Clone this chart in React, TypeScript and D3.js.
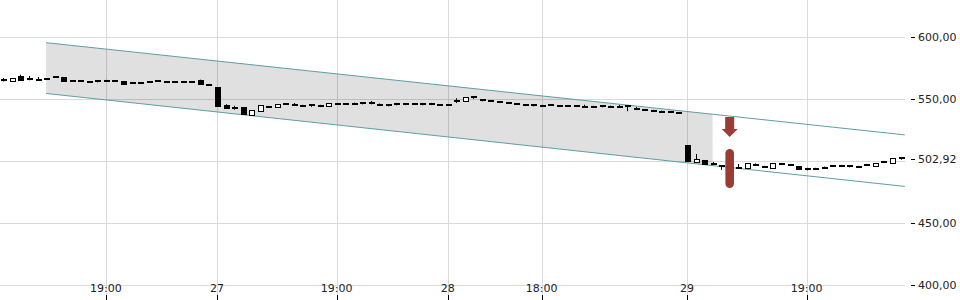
import React from "react";
import * as d3 from "d3";

// ---- Data ----
const opens = [
  565.5, 564.1, 567.6, 566.7, 565.3, 566.5, 567.5, 567.3, 564.2, 564.3,
  563.9, 564.6, 565.1, 564.2, 564.1, 563.5, 563.4, 563.9, 564.2, 563.9,
  563.8, 563.8, 563.7, 564.9, 561.0, 558.9, 544.4, 543.6, 543.2, 536.7,
  539.6, 544.2, 543.2, 545.9, 546.1, 545.0, 543.6, 545.0, 543.4, 545.9,
  545.9, 545.8, 545.6, 547.4, 546.1, 545.6, 544.8, 546.4, 545.8, 544.8,
  546.6, 545.3, 545.3, 548.8, 548.0, 552.0, 549.6, 549.0, 547.8, 547.4,
  546.2, 545.6, 545.3, 544.0, 545.0, 544.4, 544.1, 544.1, 544.4, 544.2,
  544.4, 543.4, 544.2, 544.2, 542.3, 540.8, 541.0, 539.9, 539.1, 538.7,
  512.0, 498.9, 500.5, 498.6, 495.7, 495.1, 494.4, 494.0, 497.9, 495.9,
  494.0, 498.1, 496.8, 495.6, 492.4, 494.3, 495.3, 496.2, 496.7, 496.5,
  495.9, 496.5, 495.6, 499.1, 498.1, 501.0,
];
const closes = [
  564.3, 566.5, 565.1, 565.1, 565.1, 565.7, 567.4, 564.1, 564.1, 564.4,
  563.8, 563.3, 564.1, 564.1, 561.7, 562.5, 562.4, 563.8, 564.1, 563.8,
  563.7, 563.7, 563.6, 561.7, 560.9, 543.6, 542.0, 542.0, 537.5, 540.4,
  544.2, 542.8, 545.6, 545.8, 544.4, 544.0, 545.6, 543.4, 546.1, 545.8,
  545.8, 545.9, 547.2, 545.6, 544.2, 544.0, 546.6, 545.0, 545.9, 546.6,
  545.0, 545.2, 545.2, 548.0, 550.9, 550.1, 548.0, 547.7, 547.7, 546.1,
  546.1, 544.2, 544.0, 545.0, 545.1, 543.4, 544.0, 544.0, 542.8, 543.2,
  543.2, 543.3, 542.8, 543.4, 541.0, 540.7, 539.6, 538.8, 539.0, 538.6,
  499.4, 501.3, 497.3, 496.7, 495.5, 494.0, 494.3, 497.5, 495.9, 494.5,
  497.9, 496.7, 496.7, 493.1, 494.3, 492.9, 493.7, 496.1, 495.1, 494.9,
  494.9, 496.4, 497.7, 499.0, 502.1, 502.92,
];
const highs = [
  566.7, 566.6, 569.4, 568.4, 567.6, 566.6, 567.6, 567.4, 564.3, 565.0,
  563.9, 564.7, 565.2, 564.2, 564.2, 563.6, 563.5, 563.9, 564.2, 563.9,
  563.9, 563.8, 563.8, 565.4, 561.1, 559.0, 545.6, 544.4, 543.3, 540.5,
  544.3, 544.3, 545.7, 546.0, 546.6, 545.1, 545.7, 545.1, 546.2, 546.0,
  546.0, 546.9, 547.3, 548.2, 546.2, 545.7, 546.7, 546.5, 546.6, 546.7,
  546.7, 545.4, 545.4, 550.4, 551.0, 552.1, 549.7, 549.1, 547.9, 547.5,
  546.3, 545.7, 545.4, 545.1, 545.8, 544.5, 544.2, 544.2, 545.2, 544.3,
  544.5, 544.5, 545.0, 544.4, 543.4, 540.9, 541.1, 540.5, 539.6, 538.8,
  512.1, 505.5, 500.6, 499.1, 495.8, 496.5, 497.5, 497.6, 498.0, 496.0,
  498.0, 498.2, 497.5, 495.7, 494.4, 494.4, 495.4, 496.3, 496.8, 496.6,
  496.0, 497.5, 497.8, 500.0, 502.2, 503.0,
];
const lows = [
  564.0, 564.0, 565.0, 564.9, 565.0, 565.6, 567.3, 564.0, 564.0, 564.0,
  563.7, 563.2, 564.0, 564.0, 561.6, 562.4, 562.3, 563.7, 564.0, 563.7,
  563.7, 563.6, 563.5, 561.6, 560.8, 543.4, 541.9, 541.2, 537.4, 536.6,
  539.5, 542.7, 543.1, 545.7, 544.3, 543.9, 543.5, 543.3, 543.3, 545.7,
  545.7, 545.7, 545.5, 545.5, 544.1, 543.9, 544.7, 544.9, 545.7, 544.7,
  544.9, 545.1, 545.1, 546.5, 547.9, 550.0, 547.9, 547.6, 547.6, 546.0,
  546.0, 544.1, 543.9, 543.9, 544.9, 543.3, 543.9, 543.9, 542.7, 543.1,
  543.1, 543.2, 542.7, 540.0, 540.9, 540.6, 539.5, 538.7, 538.9, 538.5,
  499.3, 498.8, 497.2, 496.6, 492.7, 493.0, 494.2, 493.9, 495.8, 494.4,
  493.9, 496.6, 496.6, 493.0, 492.3, 492.8, 493.6, 496.0, 495.0, 494.8,
  494.8, 496.3, 495.5, 498.9, 498.0, 500.9,
];

const xTickIndex = [12, 25, 39, 52, 63, 80, 94];
const xTickLabels = ["19:00", "27", "19:00", "28", "18:00", "29", "19:00"];

const yGridValues = [600, 550, 500, 450, 400];
const yTickValues = [600, 550, 450, 400];
const lastPrice = 502.92;

// regression channel: [start index, end index] and values at those ends
const channelIdx = [5, 105.5];
const channelUpper = [595.2, 520.9];
const channelLower = [554.3, 479.4];
const channelFillEnd = 83;

// event marker
const markerIndex = 85;
const markerArrowTop = 535.3;
const markerPill = [509.6, 478.2];

const fmt = (v: number) => v.toFixed(2).replace(".", ",");

export default function App() {
  const W = 960;
  const H = 300;
  const plotRight = 905;

  const x = d3.scaleLinear().domain([0, 105]).range([3.36, 3.36 + 8.545 * 105]);
  const y = d3.scaleLinear().domain([400, 600]).range([285, 36.7]);

  const lineAt = (vals: number[], i: number) =>
    d3.scaleLinear().domain(channelIdx).range(vals)(i);

  const fillPts: [number, number][] = [
    [x(channelIdx[0]), y(channelUpper[0])],
    [x(channelFillEnd), y(lineAt(channelUpper, channelFillEnd))],
    [x(channelFillEnd), y(lineAt(channelLower, channelFillEnd))],
    [x(channelIdx[0]), y(channelLower[0])],
  ];
  const fillPath = d3.line()(fillPts) + "Z";

  const lineGen = d3
    .line<number>()
    .x((_, k) => x(channelIdx[k]))
    .y((v) => y(v));

  const mx = x(markerIndex);
  const arrowTopY = y(markerArrowTop);
  const pillTop = y(markerPill[0]);
  const pillBot = y(markerPill[1]);
  const red = "#9b3b36";

  const font = "DejaVu Sans, sans-serif";

  return (
    <svg
      width={W}
      height={H}
      style={{ position: "absolute", left: 0, top: 0, background: "#fff" }}
    >
      {/* grid */}
      {yGridValues.map((v) => (
        <line
          key={"gy" + v}
          x1={0}
          x2={plotRight}
          y1={Math.round(y(v)) + 0.5}
          y2={Math.round(y(v)) + 0.5}
          stroke="#d9d9d9"
          strokeWidth={1}
        />
      ))}
      {xTickIndex.map((i) => (
        <line
          key={"gx" + i}
          x1={Math.round(x(i)) + 0.5}
          x2={Math.round(x(i)) + 0.5}
          y1={0}
          y2={H}
          stroke="#d9d9d9"
          strokeWidth={1}
        />
      ))}

      {/* channel */}
      <path d={fillPath} fill="rgba(0,0,0,0.12)" />
      <path d={lineGen(channelUpper) || ""} stroke="#5f9ea0" strokeWidth={1} fill="none" />
      <path d={lineGen(channelLower) || ""} stroke="#5f9ea0" strokeWidth={1} fill="none" />

      {/* candles */}
      {opens.map((o, i) => {
        const c = closes[i];
        const cx = Math.round(x(i));
        const up = c >= o;
        const top = y(Math.max(o, c));
        const bot = y(Math.min(o, c));
        const raw = bot - top;
        const thin = raw < 2.5;
        const h = thin ? 2 : raw;
        const ty = thin ? Math.round((top + bot) / 2) - 1 : top;
        return (
          <g key={"c" + i}>
            <line
              x1={cx + 0.5}
              x2={cx + 0.5}
              y1={y(highs[i])}
              y2={y(lows[i])}
              stroke="#000"
              strokeWidth={1}
            />
            {thin ? (
              <rect
                x={cx - 2}
                y={ty}
                width={6}
                height={h}
                fill="#000"
                style={{ shapeRendering: "crispEdges" }}
              />
            ) : (
              <rect
                x={cx - 2}
                y={top}
                width={5}
                height={h}
                fill={up ? "#fff" : "#000"}
                stroke="#000"
                strokeWidth={1}
                style={{ shapeRendering: "crispEdges" }}
              />
            )}
          </g>
        );
      })}

      {/* event marker */}
      <rect x={mx - 4.5} y={arrowTopY} width={9} height={13} fill={red} />
      <path
        d={`M${mx - 8},${arrowTopY + 12} L${mx + 8},${arrowTopY + 12} L${mx},${arrowTopY + 20} Z`}
        fill={red}
      />
      <rect
        x={mx - 4.3}
        y={pillTop}
        width={8.6}
        height={pillBot - pillTop}
        rx={4.3}
        fill={red}
      />

      {/* y axis */}
      {yTickValues.map((v) => (
        <g key={"yt" + v}>
          <line x1={911} x2={915} y1={Math.round(y(v)) + 0.5} y2={Math.round(y(v)) + 0.5} stroke="#000" />
          <text x={918} y={y(v)} dy="0.35em" fontFamily={font} fontSize={11} fill="#222">
            {fmt(v)}
          </text>
        </g>
      ))}
      <g>
        <line x1={911} x2={915} y1={Math.round(y(lastPrice)) + 2.5} y2={Math.round(y(lastPrice)) + 2.5} stroke="#000" />
        <text x={918} y={y(lastPrice) + 2} dy="0.35em" fontFamily={font} fontSize={11} fill="#222">
          {fmt(lastPrice)}
        </text>
      </g>

      {/* x axis */}
      {xTickIndex.map((i, k) => (
        <g key={"xt" + i}>
          <text
            x={x(i)}
            y={288}
            dy="0.35em"
            textAnchor="middle"
            fontFamily={font}
            fontSize={11}
            fill="#222"
          >
            {xTickLabels[k]}
          </text>
          <line
            x1={Math.round(x(i)) + 0.5}
            x2={Math.round(x(i)) + 0.5}
            y1={295}
            y2={300}
            stroke="#000"
          />
        </g>
      ))}
    </svg>
  );
}
